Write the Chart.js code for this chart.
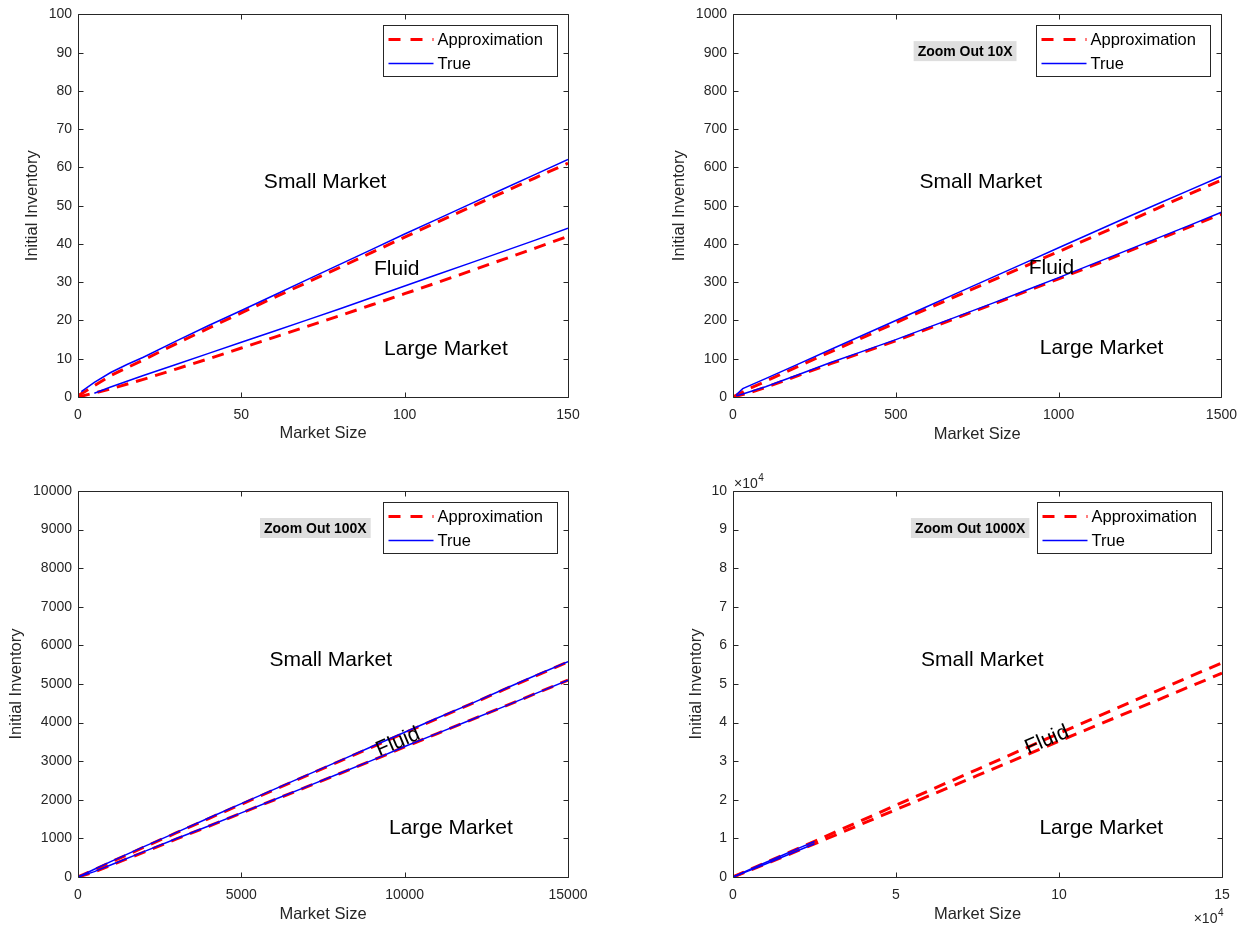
<!DOCTYPE html>
<html>
<head>
<meta charset="utf-8">
<title>Initial inventory thresholds by market size</title>
<script src="https://cdn.jsdelivr.net/npm/chart.js@4.4.1/dist/chart.umd.min.js"></script>
<style>
  html, body { margin: 0; padding: 0; background: #ffffff; }
  #figure { position: relative; width: 1247px; height: 928px; overflow: hidden; background: #ffffff; }
  #figure canvas { position: absolute; }
</style>
</head>
<body>
<div id="figure">
  <canvas id="p1" width="623" height="464" style="left:0px;top:0px"></canvas>
  <canvas id="p2" width="624" height="464" style="left:623px;top:0px"></canvas>
  <canvas id="p3" width="623" height="464" style="left:0px;top:464px"></canvas>
  <canvas id="p4" width="624" height="464" style="left:623px;top:464px"></canvas>
</div>
<script>
// ---------- Panel 1: market size 0-150 ----------
const p1ApproxSize  = [0, 10, 20, 30, 40, 50, 60, 70, 80, 90, 100, 110, 120, 130, 140, 150];
const p1ApproxUpper = [0.3, 5.6, 9.7, 13.9, 18.0, 22.0, 26.0, 29.9, 33.8, 37.8, 41.8, 45.7, 49.6, 53.4, 57.3, 61.1];
const p1ApproxLower = [0, 2.1, 4.6, 7.3, 10.0, 12.8, 15.6, 18.4, 21.2, 24.1, 27.0, 29.9, 32.9, 35.9, 38.9, 42.0];
const p1TrueUpperSize = [1, 5, 10, 15, 20, 30, 40, 50, 60, 70, 80, 90, 100, 110, 120, 130, 140, 150];
const p1TrueUpper     = [1.4, 3.8, 6.4, 8.5, 10.4, 14.6, 18.7, 22.6, 26.6, 30.6, 34.6, 38.6, 42.6, 46.5, 50.4, 54.3, 58.2, 62.1];
const p1TrueLowerSize = [5, 10, 20, 30, 40, 50, 60, 70, 80, 90, 100, 110, 120, 130, 140, 150];
const p1TrueLower     = [1.0, 2.6, 5.6, 8.5, 11.4, 14.3, 17.2, 20.1, 23.0, 26.0, 29.0, 32.0, 35.0, 38.0, 41.0, 44.1];

// ---------- Panel 2: market size 0-1500 ----------
const p2ApproxSize  = [0, 50, 100, 200, 300, 400, 500, 600, 700, 800, 900, 1000, 1100, 1200, 1300, 1400, 1500];
const p2ApproxUpper = [0, 22, 41, 80, 118, 156, 194, 232, 269, 306, 343, 380, 417, 454, 492, 530, 567];
const p2ApproxLower = [0, 11, 25, 56, 87, 117, 147, 179, 211, 243, 276, 309, 342, 376, 410, 444, 478];
const p2TrueSize    = [10, 30, 100, 200, 300, 400, 500, 600, 700, 800, 900, 1000, 1100, 1200, 1300, 1400, 1500];
const p2TrueUpper   = [6, 22, 48, 86, 124, 162, 200, 238, 276, 314, 352, 390, 428, 466, 503, 540, 577];
const p2TrueLower   = [3, 8, 27, 58, 90, 120, 150, 182, 214, 246, 279, 312, 346, 380, 414, 448, 483];

// ---------- Panel 3: market size 0-15000 ----------
const p3Size        = [0, 500, 1000, 2000, 3000, 4000, 5000, 6000, 7000, 8000, 9000, 10000, 11000, 12000, 13000, 14000, 15000];
const p3ApproxUpper = [0, 190, 385, 765, 1140, 1515, 1885, 2255, 2625, 2995, 3365, 3735, 4105, 4470, 4840, 5205, 5570];
const p3ApproxLower = [0, 130, 300, 640, 980, 1315, 1655, 1995, 2335, 2675, 3015, 3370, 3715, 4060, 4400, 4750, 5100];
const p3TrueUpper   = [0, 200, 400, 780, 1150, 1530, 1900, 2270, 2640, 3010, 3380, 3750, 4120, 4480, 4850, 5220, 5580];
const p3TrueLower   = [0, 140, 310, 650, 990, 1320, 1660, 2000, 2340, 2680, 3020, 3380, 3720, 4060, 4400, 4750, 5100];

// ---------- Panel 4: market size 0-150000 ----------
const p4ApproxSize  = [0, 5000, 10000, 15000, 25000, 50000, 75000, 100000, 125000, 150000];
const p4ApproxUpper = [0, 1880, 3740, 5570, 9250, 18600, 27900, 37200, 46400, 55500];
const p4ApproxLower = [0, 1650, 3370, 5100, 8600, 17450, 26300, 35200, 44000, 52800];
const p4TrueSize    = [0, 5000, 10000, 15000, 20000, 25000];
const p4TrueUpper   = [0, 1900, 3750, 5580, 7400, 9200];
const p4TrueLower   = [0, 1660, 3380, 5100, 6850, 8600];

// Axis limits and tick steps
const xLimits = [150, 1500, 15000, 150000];
const yLimits = [100, 1000, 10000, 100000];
const xSteps  = [50, 500, 5000, 50000];
const ySteps  = [10, 100, 1000, 10000];

// Legend entries and region labels
const legendLabels = ['Approximation', 'True'];
const regionLabels = ['Small Market', 'Fluid', 'Large Market'];
const zoomLabels   = [null, 'Zoom Out 10X', 'Zoom Out 100X', 'Zoom Out 1000X'];

const FONT = "'Liberation Sans', Arial, Helvetica, sans-serif";
const AXIS_COLOR = '#262626';
const RED = '#ff0000';
const BLUE = '#0000ff';
const RED_DASH = [12, 8];
Chart.defaults.font.family = FONT;

function pts(xs, ys) { return xs.map((x, i) => ({ x: x, y: ys[i] })); }

function approxSet(xs, ys) {
  return { data: pts(xs, ys), borderColor: RED, borderWidth: 3, borderDash: RED_DASH,
           pointRadius: 0, fill: false, tension: 0, order: 2 };
}
function trueSet(xs, ys) {
  return { data: pts(xs, ys), borderColor: BLUE, borderWidth: 1.5,
           pointRadius: 0, fill: false, tension: 0, order: 1 };
}

// Box, inward ticks, legend, region text and exponent labels in the MATLAB look
function overlay(cfg) {
  return {
    id: 'overlay',
    afterDraw(chart) {
      const ctx = chart.ctx;
      const a = chart.chartArea;
      const xs = chart.scales.x, ys = chart.scales.y;
      const L = Math.round(a.left) + 0.5, R = Math.round(a.right) + 0.5;
      const T = Math.round(a.top) + 0.5, B = Math.round(a.bottom) + 0.5;
      ctx.save();
      ctx.strokeStyle = AXIS_COLOR;
      ctx.lineWidth = 1;
      ctx.setLineDash([]);
      ctx.beginPath();
      ctx.rect(L, T, R - L, B - T);
      const tk = 5;
      xs.ticks.forEach(t => {
        const p = Math.round(xs.getPixelForValue(t.value)) + 0.5;
        ctx.moveTo(p, B); ctx.lineTo(p, B - tk);
        ctx.moveTo(p, T); ctx.lineTo(p, T + tk);
      });
      ys.ticks.forEach(t => {
        const p = Math.round(ys.getPixelForValue(t.value)) + 0.5;
        ctx.moveTo(L, p); ctx.lineTo(L + tk, p);
        ctx.moveTo(R, p); ctx.lineTo(R - tk, p);
      });
      ctx.stroke();

      // region labels
      ctx.fillStyle = '#000000';
      ctx.font = '21px ' + FONT;
      ctx.textBaseline = 'middle';
      cfg.notes.forEach(n => {
        const px = xs.getPixelForValue(n.x), py = ys.getPixelForValue(n.y);
        if (n.angle) {
          ctx.save();
          ctx.translate(px, py);
          ctx.rotate(n.angle * Math.PI / 180);
          ctx.textAlign = 'center';
          ctx.fillText(n.text, 0, 0);
          ctx.restore();
        } else {
          ctx.textAlign = 'left';
          ctx.fillText(n.text, px, py);
        }
      });

      // zoom tag with grey background
      if (cfg.zoom) {
        ctx.font = 'bold 14px ' + FONT;
        const px = xs.getPixelForValue(cfg.zoom.x), py = ys.getPixelForValue(cfg.zoom.y);
        const w = ctx.measureText(cfg.zoom.text).width;
        ctx.fillStyle = '#dedede';
        ctx.fillRect(px - 4, py - 10, w + 8, 20);
        ctx.fillStyle = '#000000';
        ctx.textAlign = 'left';
        ctx.fillText(cfg.zoom.text, px, py + 1);
      }

      // legend
      const lw = 174, lh = 51;
      const lx = Math.round(a.right) - 11 - lw + 0.5, ly = Math.round(a.top) + 11 + 0.5;
      ctx.fillStyle = '#ffffff';
      ctx.fillRect(lx, ly, lw, lh);
      ctx.strokeStyle = AXIS_COLOR;
      ctx.lineWidth = 1;
      ctx.strokeRect(lx, ly, lw, lh);
      const rows = [
        { label: legendLabels[0], color: RED, width: 3, dash: [12, 10] },
        { label: legendLabels[1], color: BLUE, width: 1.5, dash: [] }
      ];
      ctx.font = '16.5px ' + FONT;
      ctx.textAlign = 'left';
      ctx.textBaseline = 'middle';
      rows.forEach((r, i) => {
        const ry = ly + 14 + i * 24;
        ctx.save();
        ctx.strokeStyle = r.color;
        ctx.lineWidth = r.width;
        ctx.setLineDash(r.dash);
        ctx.beginPath();
        ctx.moveTo(lx + 5, ry); ctx.lineTo(lx + 50, ry);
        ctx.stroke();
        ctx.restore();
        ctx.fillStyle = '#000000';
        ctx.fillText(r.label, lx + 54, ry + 1);
      });

      // x10^4 exponent labels
      if (cfg.exponent) {
        ctx.fillStyle = AXIS_COLOR;
        ctx.textBaseline = 'middle';
        const drawExp = (x, y, align) => {
          ctx.font = '14px ' + FONT;
          const base = '\u00d710';
          const bw = ctx.measureText(base).width;
          ctx.font = '10px ' + FONT;
          const ew = ctx.measureText('4').width;
          const start = align === 'right' ? x - bw - ew : x;
          ctx.textAlign = 'left';
          ctx.font = '14px ' + FONT;
          ctx.fillText(base, start, y);
          ctx.font = '10px ' + FONT;
          ctx.fillText('4', start + bw + 0.5, y - 6);
        };
        drawExp(Math.round(a.left) + 1, Math.round(a.top) - 7, 'left');
        drawExp(Math.round(a.right) + 1, Math.round(a.bottom) + 42, 'right');
      }
      ctx.restore();
    }
  };
}

function makePanel(id, idx, datasets, layout, cfg) {
  const fmt = cfg.exponent ? (v => String(v / 10000)) : (v => String(v));
  return new Chart(document.getElementById(id), {
    type: 'line',
    data: { datasets: datasets },
    options: {
      responsive: false,
      animation: false,
      devicePixelRatio: 1,
      layout: { padding: { top: layout.top, right: layout.right, left: 0, bottom: 0 } },
      plugins: { legend: { display: false }, tooltip: { enabled: false } },
      elements: { point: { radius: 0 } },
      scales: {
        x: {
          type: 'linear', min: 0, max: xLimits[idx],
          grid: { display: false, drawTicks: false },
          border: { display: false },
          ticks: { stepSize: xSteps[idx], autoSkip: false, maxRotation: 0, color: AXIS_COLOR,
                   font: { size: 14 }, padding: 10, callback: fmt },
          title: { display: true, text: 'Market Size', color: AXIS_COLOR, font: { size: 16.5 },
                   padding: { top: 0, bottom: layout.xTitle } },
          afterFit: s => { s.height = layout.xAxis; }
        },
        y: {
          type: 'linear', min: 0, max: yLimits[idx],
          grid: { display: false, drawTicks: false },
          border: { display: false },
          ticks: { stepSize: ySteps[idx], autoSkip: false, color: AXIS_COLOR,
                   font: { size: 14 }, padding: 6, callback: fmt },
          title: { display: true, text: 'Initial Inventory', color: AXIS_COLOR, font: { size: 16.5 },
                   padding: { top: layout.yTitle, bottom: 0 } },
          afterFit: s => { s.width = layout.yAxis; }
        }
      }
    },
    plugins: [overlay(cfg)]
  });
}

makePanel('p1', 0, [
  approxSet(p1ApproxSize, p1ApproxUpper), approxSet(p1ApproxSize, p1ApproxLower),
  trueSet(p1TrueUpperSize, p1TrueUpper), trueSet(p1TrueLowerSize, p1TrueLower)
], { top: 11, right: 55, xAxis: 67, yAxis: 78, xTitle: 20.5, yTitle: 22.7 }, {
  notes: [
    { text: regionLabels[0], x: 56.9, y: 56.2 },
    { text: regionLabels[1], x: 90.6, y: 33.4 },
    { text: regionLabels[2], x: 93.7, y: 12.4 }
  ]
});

makePanel('p2', 1, [
  approxSet(p2ApproxSize, p2ApproxUpper), approxSet(p2ApproxSize, p2ApproxLower),
  trueSet(p2TrueSize, p2TrueUpper), trueSet(p2TrueSize, p2TrueLower)
], { top: 11, right: 25, xAxis: 67, yAxis: 110, xTitle: 19.5, yTitle: 46.7 }, {
  notes: [
    { text: regionLabels[0], x: 573, y: 562 },
    { text: regionLabels[1], x: 908, y: 337 },
    { text: regionLabels[2], x: 942, y: 127 }
  ],
  zoom: { text: zoomLabels[1], x: 567, y: 904 }
});

makePanel('p3', 2, [
  approxSet(p3Size, p3ApproxUpper), approxSet(p3Size, p3ApproxLower),
  trueSet(p3Size, p3TrueUpper), trueSet(p3Size, p3TrueLower)
], { top: 27, right: 55, xAxis: 51, yAxis: 78, xTitle: 4, yTitle: 6.1 }, {
  notes: [
    { text: regionLabels[0], x: 5862, y: 5622 },
    { text: regionLabels[1], x: 9796, y: 3497, angle: -23 },
    { text: regionLabels[2], x: 9520, y: 1269 }
  ],
  zoom: { text: zoomLabels[2], x: 5694, y: 9041 }
});

makePanel('p4', 3, [
  approxSet(p4ApproxSize, p4ApproxUpper), approxSet(p4ApproxSize, p4ApproxLower),
  trueSet(p4TrueSize, p4TrueUpper), trueSet(p4TrueSize, p4TrueLower)
], { top: 27, right: 25, xAxis: 51, yAxis: 110, xTitle: 4, yTitle: 63.6 }, {
  notes: [
    { text: regionLabels[0], x: 57700, y: 56220 },
    { text: regionLabels[1], x: 96300, y: 35500, angle: -23 },
    { text: regionLabels[2], x: 94000, y: 12700 }
  ],
  zoom: { text: zoomLabels[3], x: 55800, y: 90400 },
  exponent: true
});
</script>
</body>
</html>
